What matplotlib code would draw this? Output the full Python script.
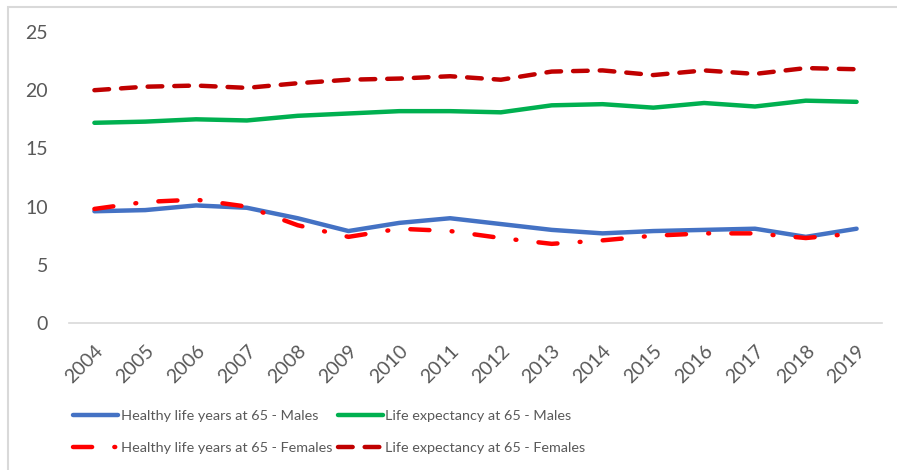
import matplotlib.pyplot as plt
from matplotlib.patches import Rectangle

plt.rcParams['font.family'] = ['Lato', 'DejaVu Sans']

years = [str(y) for y in range(2004, 2020)]
hly_males = [9.6, 9.7, 10.1, 9.9, 9.0, 7.9, 8.6, 9.0, 8.5, 8.0, 7.7, 7.9, 8.0, 8.1, 7.4, 8.1]
le_males = [17.2, 17.3, 17.5, 17.4, 17.8, 18.0, 18.2, 18.2, 18.1, 18.7, 18.8, 18.5, 18.9, 18.6, 19.1, 19.0]
hly_females = [9.8, 10.4, 10.6, 10.0, 8.4, 7.4, 8.1, 7.9, 7.3, 6.8, 7.1, 7.5, 7.7, 7.7, 7.3, 7.7]
le_females = [20.0, 20.3, 20.4, 20.2, 20.6, 20.9, 21.0, 21.2, 20.9, 21.6, 21.7, 21.3, 21.7, 21.4, 21.9, 21.8]

fig = plt.figure(figsize=(8.97, 4.70), dpi=100)
ax = fig.add_axes([69/897, 147/470, (882-69)/897, (438-147)/470])

x = range(len(years))
lw = 3.2
l1, = ax.plot(x, hly_males, color='#4472C4', lw=lw, solid_capstyle='round',
              label='Healthy life years at 65 - Males')
l2, = ax.plot(x, le_males, color='#00B050', lw=lw, solid_capstyle='round',
              label='Life expectancy at 65 - Males')
l3, = ax.plot(x, hly_females, color='#FF0000', lw=lw, dash_capstyle='round',
              dashes=(4.3, 5.0, 0.2, 5.0), label='Healthy life years at 65 - Females')
l4, = ax.plot(x, le_females, color='#C00000', lw=lw, dash_capstyle='round',
              dashes=(3.3, 2.7), label='Life expectancy at 65 - Females')

ax.set_xlim(-0.5, len(years) - 0.5)
ax.set_ylim(0, 25)
ax.set_yticks([0, 5, 10, 15, 20, 25])
ax.set_xticks(list(x))
ax.set_xticklabels(years, rotation=45, ha='right', rotation_mode='anchor')
ax.tick_params(axis='both', length=0, labelsize=14, colors='#595959')
ax.tick_params(axis='y', pad=15)
ax.tick_params(axis='x', pad=14)
for s in ['top', 'right', 'left']:
    ax.spines[s].set_visible(False)
ax.spines['bottom'].set_color('#D9D9D9')
ax.spines['bottom'].set_linewidth(1.2)

# chart area border
fig.patches.append(Rectangle((8/897, -0.05), 1.2, 1 - 7/470 + 0.05,
                             transform=fig.transFigure, fill=False,
                             edgecolor='#D9D9D9', lw=1.5))

# row-wise legend order: males on the first row, females on the second
handles = [l1, l3, l2, l4]
leg = fig.legend(handles=handles, labels=[h.get_label() for h in handles],
                 loc='upper left', bbox_to_anchor=(60/897, 1 - 397/470), ncol=2,
                 frameon=False, fontsize=10.4, handlelength=3.1,
                 handletextpad=0.2, columnspacing=0.4, labelspacing=1.4)
for t in leg.get_texts():
    t.set_color('#595959')

fig.savefig('out.png', dpi=100)
